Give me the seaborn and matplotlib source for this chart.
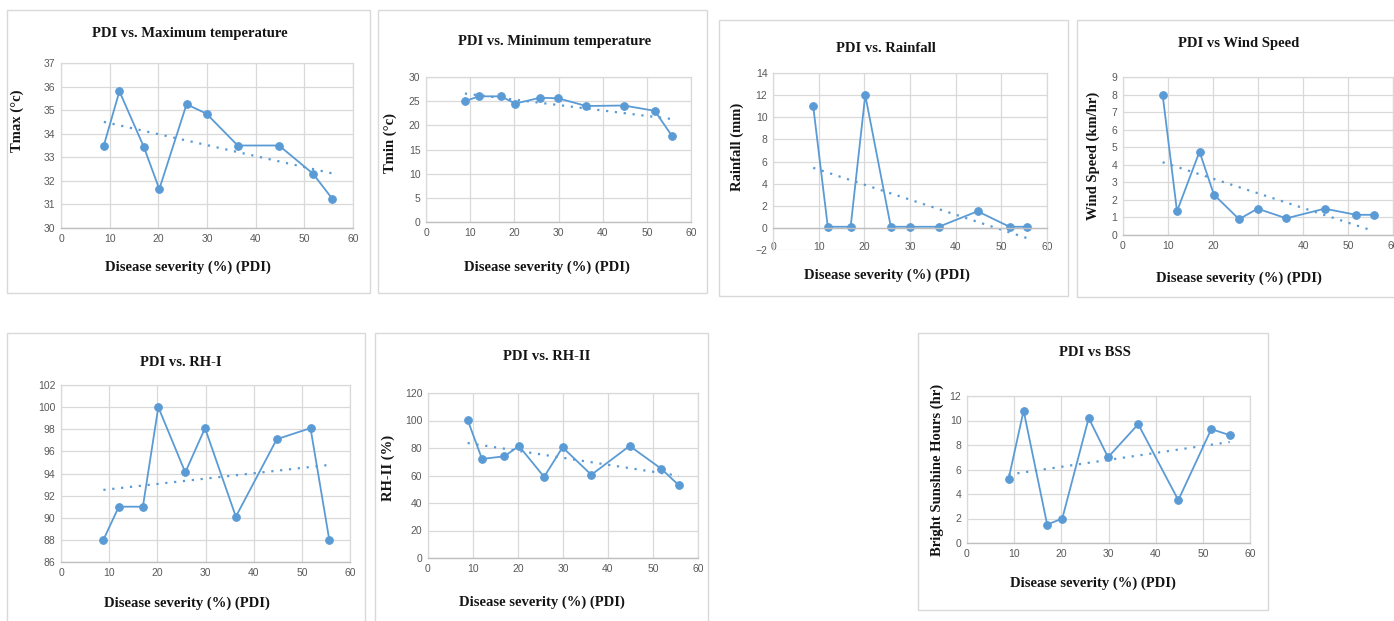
import numpy as np
import matplotlib
matplotlib.use("Agg")
import matplotlib.pyplot as plt
import seaborn as sns
from matplotlib.patches import Rectangle

# PDI (x) shared by all panels
pdi = [8.8, 12.0, 17.0, 20.2, 25.8, 29.9, 36.3, 44.8, 51.8, 55.7]

tmax = [33.5, 35.8, 33.45, 31.65, 35.25, 34.85, 33.5, 33.5, 32.3, 31.25]
tmin = [25.0, 26.0, 26.0, 24.5, 25.7, 25.6, 24.0, 24.1, 23.0, 17.8]
rainfall = [11.0, 0.1, 0.1, 12.0, 0.1, 0.1, 0.1, 1.5, 0.1, 0.1]
wind = [8.0, 1.35, 4.75, 2.3, 0.9, 1.5, 0.95, 1.5, 1.15, 1.15]
rh1 = [88.0, 91.0, 91.0, 100.0, 94.1, 98.1, 90.1, 97.1, 98.1, 88.0]
rh2 = [100.5, 72.0, 74.0, 81.5, 59.0, 80.5, 60.5, 81.5, 65.0, 53.0]
bss = [5.2, 10.8, 1.5, 2.0, 10.2, 7.0, 9.7, 3.5, 9.3, 8.8]

titles = ["PDI vs. Maximum temperature", "PDI vs. Minimum temperature",
          "PDI vs. Rainfall", "PDI vs Wind Speed", "PDI vs. RH-I",
          "PDI vs. RH-II", "PDI vs BSS"]
ylabels = ["Tmax (°c)", "Tmin (°c)", "Rainfall (mm)", "Wind Speed (km/hr)",
           "", "RH-II (%)", "Bright Sunshine Hours (hr)"]
xlabel = "Disease severity (%) (PDI)"
series = [tmax, tmin, rainfall, wind, rh1, rh2, bss]
yranges = [(30, 37, 1), (0, 30, 5), (-2, 14, 2), (0, 9, 1),
           (86, 102, 2), (0, 120, 20), (0, 12, 2)]

W, H = 1394, 621
# layout in pixel coords: panel box, plot area, title/xlabel/ylabel anchors
boxes = [(7, 10, 370, 293), (378, 10, 707, 293), (719, 20, 1068, 296),
         (1077, 20, 1400, 297), (7, 333, 365, 630), (375, 333, 708, 630),
         (918, 333, 1268, 610)]
plot_areas = [(61, 63, 353, 228), (426, 77, 691, 222), (773, 73, 1047, 250),
              (1123, 77, 1393, 235), (61, 385, 350, 562), (428, 393, 698, 558),
              (967, 396, 1250, 543)]
title_pos = [(190, 33), (555, 41), (886, 48), (1239, 43), (181, 363),
             (547, 357), (1095, 353)]
xlabel_pos = [(188, 267), (547, 267), (887, 275), (1239, 278), (187, 603),
              (542, 602), (1093, 583)]
ylabel_pos = [(17, 121), (390, 143), (737, 147), (1093, 156), (0, 0),
              (388, 468), (937, 470)]

BLUE = "#5b9bd5"
GRID = "#d9d9d9"
SERIF = ["Liberation Serif", "DejaVu Serif"]

sns.set_theme(style="white")
plt.rcParams['font.family'] = ['Liberation Sans Narrow', 'Liberation Sans', 'DejaVu Sans']

fig = plt.figure(figsize=(W / 100, H / 100), dpi=100)
fig.patch.set_facecolor("white")


def fx(x):
    return x / W


def fy(y):
    return 1 - y / H


def add_text(pos, s, size, rotation=0):
    fig.text(fx(pos[0]), fy(pos[1]), s, ha="center", va="center",
             family=SERIF, weight="bold", fontsize=size, rotation=rotation,
             color="#141414")


for i, vals in enumerate(series):
    bx0, by0, bx1, by1 = boxes[i]
    fig.patches.append(Rectangle((fx(bx0), fy(by1)), fx(bx1 - bx0), (by1 - by0) / H,
                                 transform=fig.transFigure, fill=False,
                                 edgecolor=GRID, linewidth=1.0))

    l, t, r, b = plot_areas[i]
    ax = fig.add_axes([fx(l), fy(b), fx(r - l), (b - t) / H])

    # dotted linear trendline + connected markers
    sns.regplot(x=pdi, y=vals, ax=ax, scatter=False, ci=None,
                line_kws=dict(color=BLUE, linestyle=(0, (1, 3)), linewidth=1.6))
    sns.lineplot(x=pdi, y=vals, ax=ax, color=BLUE, linewidth=1.3,
                 marker="o", markersize=5.5, markeredgecolor=BLUE)

    lo, hi, step = yranges[i]
    ax.set_xlim(0, 60)
    ax.set_ylim(lo, hi)
    ax.set_yticks(np.arange(lo, hi + step / 2, step))
    ax.set_xticks(range(0, 61, 10))
    if i == 3:
        ax.set_xticklabels(["0", "10", "20", "", "40", "50", "60"])
    ax.grid(True, color=GRID, linewidth=0.9)
    ax.set_axisbelow(True)
    for side in ["left", "right", "top"]:
        ax.spines[side].set_color(GRID)
        ax.spines[side].set_linewidth(0.9)
    ax.spines["bottom"].set_color("#bfbfbf")
    ax.spines["bottom"].set_linewidth(1.0)
    ax.tick_params(length=0, labelsize=7.5, labelcolor="#595959", pad=4)
    if lo < 0:
        ax.spines["bottom"].set_position(("data", 0))
        ax.tick_params(axis="x", pad=10)
    ax.set_xlabel("")
    ax.set_ylabel("")

    add_text(title_pos[i], titles[i], 10.5)
    add_text(xlabel_pos[i], xlabel, 10.5)
    if ylabels[i]:
        add_text(ylabel_pos[i], ylabels[i], 10.5, rotation=90)

fig.savefig("out.png", dpi=100, facecolor="white")
